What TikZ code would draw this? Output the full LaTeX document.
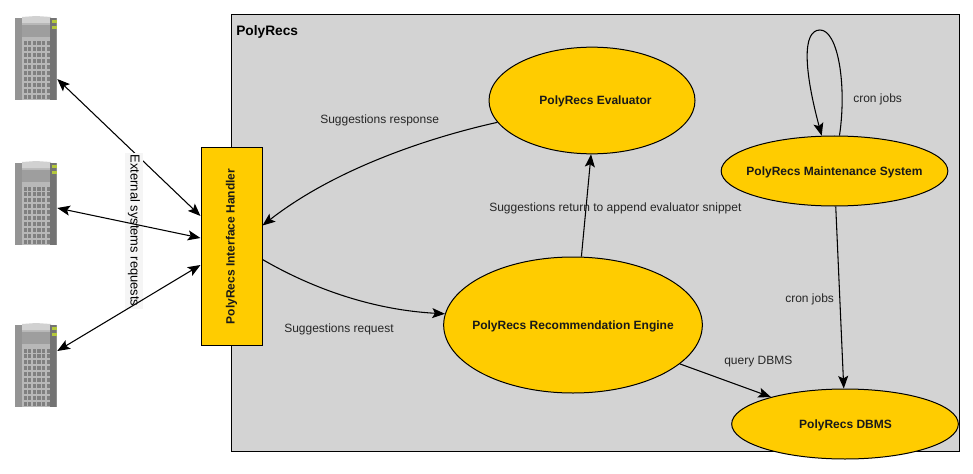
\documentclass[tikz,border=0pt]{standalone}
\usepackage{fontspec}
\setmainfont{Liberation Sans}
\usetikzlibrary{arrows.meta,shapes.geometric,calc}
\definecolor{panel}{HTML}{D3D3D3}
\definecolor{gold}{HTML}{FFCC00}
\definecolor{leaf}{HTML}{B4C83C}
\tikzset{
 tip/.style={-{Stealth[length=9.5pt,width=7.5pt,inset=2pt]}},
 both/.style={{Stealth[length=9.5pt,width=7.5pt,inset=2pt]}-{Stealth[length=9.5pt,width=7.5pt,inset=2pt]}},
 conn/.style={draw=black,line width=0.8pt},
 comp/.style={ellipse,draw=black,fill=gold,line width=0.75pt,inner sep=0pt},
 comptext/.style={font=\bfseries\fontsize{9pt}{11pt}\selectfont,inner sep=0pt,text=black!90},
 lab/.style={font=\fontsize{9pt}{11pt}\selectfont,inner sep=0pt,text=black!85},
 box/.style={draw=black,fill=panel,line width=0.75pt},
 srvbox/.style={minimum width=31.5pt,minimum height=63pt,inner sep=0pt},
}
\newcommand{\srv}[2]{%
 \begin{scope}[shift={(#1,#2)}]
  \fill[black!45] (0,1) rectangle (42,83);
  \fill[black!42] (0,1) rectangle (7,83);
  \fill[black!28] (7,0) rectangle (36,83);
  \fill[black!38] (7,8) rectangle (36,20);
  \fill[black!18] (7,0) -- (21,-1) -- (36,0) -- (36,6) -- (7,6) -- cycle;
  \fill[black!55] (35,1) rectangle (41,83);
  \fill[leaf] (37,3) rectangle (42,6);
  \fill[leaf] (37,9) rectangle (42,12);
  \foreach \r in {0,...,9}{\foreach \c in {0,...,5}{
    \fill[black!50] ({8.5+\c*4.6},{24.5+\r*5.9}) rectangle +(3.2,4);}}
 \end{scope}}
\begin{document}
\begin{tikzpicture}[x=0.75pt,y=-0.75pt]
\useasboundingbox (0,0) rectangle (973,474);
\fill[white] (0,0) rectangle (973,474);
\draw[box] (231,15) rectangle (959,451);
\node[anchor=west,inner sep=0pt,font=\bfseries\fontsize{10.3pt}{12pt}\selectfont] (title) at (236,31.5) {PolyRecs};
\srv{15}{17}
\srv{15}{162}
\srv{15}{324}
\node[srvbox] (s1) at (36,59) {};
\node[srvbox] (s2) at (36,204) {};
\node[srvbox] (s3) at (36,366) {};
\node[draw=black,fill=gold,line width=0.75pt,minimum width=45.75pt,minimum height=148.5pt,inner sep=0pt] (ih) at (231.5,246.5) {};
\node[rotate=90,comptext] (iht) at (ih) {PolyRecs Interface Handler};
\node[comp,minimum width=154.5pt,minimum height=80pt] (ev) at (592,100.5) {};
\node[comptext] (evt) at ($(ev)+(3.5,1.3)$) {PolyRecs Evaluator};
\node[comp,minimum width=194pt,minimum height=102pt] (re) at (573,325) {};
\node[comptext] (ret) at ($(re)+(0,1.5)$) {PolyRecs Recommendation Engine};
\node[comp,minimum width=170pt,minimum height=52.5pt] (ms) at (834.5,171) {};
\node[comptext] (mst) at ($(ms)+(0,1.5)$) {PolyRecs Maintenance System};
\node[comp,minimum width=170pt,minimum height=52.5pt] (db) at (845,424) {};
\node[comptext] (dbt) at ($(db)+(0.5,1.5)$) {PolyRecs DBMS};
\draw[conn,both] ($(s1.east)+(0,20)$) -- ($(ih.west)+(0,-30.5)$);
\node[rotate=-90,fill=black!4,minimum width=117pt,minimum height=13.5pt,inner sep=0pt,lab,font=\fontsize{9.7pt}{11pt}\selectfont,text=black] (ext) at (134,230.5) {External systems requests};
\draw[conn,both] ($(s2.east)+(0,4)$) -- ($(ih.west)+(0,-8.5)$);
\draw[conn,both] ($(s3.east)+(0,-15)$) -- ($(ih.west)+(0,18.5)$);
\draw[conn,tip] (ev.193.5) .. controls (440,135) and (340,165) .. ($(ih.east)+(0,-21)$);
\draw[conn,tip] ($(ih.east)+(0,13)$) .. controls (315,290) and (375,310) .. (re.175.6);
\draw[conn,tip] (re.83.3) -- (ev.269);
\draw[conn,tip] (re.-20.3) -- (db.160.3);
\draw[conn,tip] (ms.272) -- (db.92);
\draw[conn,tip] (ms.82.7) .. controls (847,85) and (838,30) .. (820,30) .. controls (802,30) and (804,70) .. (ms.110);
\node[lab,anchor=west] (l1) at (320,120) {Suggestions response};
\node[lab,anchor=west] (l2) at (284,329) {Suggestions request};
\node[lab,anchor=west] (l3) at (489,208) {Suggestions return to append evaluator snippet};
\node[lab,anchor=west] (l4) at (853,99) {cron jobs};
\node[lab,anchor=west] (l5) at (785,299) {cron jobs};
\node[lab,anchor=west] (l6) at (724,362) {query DBMS};
\end{tikzpicture}
\end{document}
